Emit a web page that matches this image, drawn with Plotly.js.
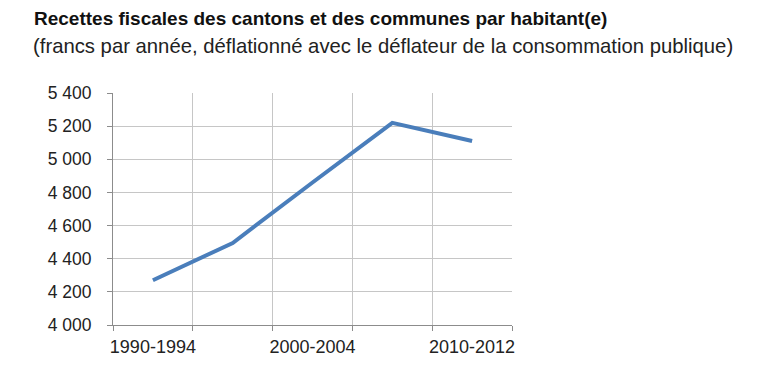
<!DOCTYPE html>
<html>
<head>
<meta charset="utf-8">
<script src="https://cdn.plot.ly/plotly-3.0.1.min.js"></script>
<style>
  html, body { margin: 0; padding: 0; background: #fff; }
  #chart { width: 761px; height: 370px; }
</style>
</head>
<body>
<div id="chart"></div>
<script>
// Data
const categories = ['1990-1994', '1995-1999', '2000-2004', '2005-2009', '2010-2012'];
const revenues = [4270, 4495, 4860, 5220, 5110];
const tickLabels = ['1990-1994', '', '2000-2004', '', '2010-2012'];
const yTicks = [4000, 4200, 4400, 4600, 4800, 5000, 5200, 5400];
const titleText = '<b>Recettes fiscales des cantons et des communes par habitant(e)</b>';
const subtitleText = '(francs par année, déflationné avec le déflateur de la consommation publique)';

const FONT = 'Liberation Sans, Arial, Helvetica, sans-serif';
const W = 761, H = 370;
const plotL = 113, plotR = 512, plotT = 93, plotB = 325;
const pw = plotR - plotL, ph = plotB - plotT;

const trace = {
  type: 'scatter',
  mode: 'lines',
  x: categories,
  y: revenues,
  line: { color: '#4a7ebb', width: 4 },
  hoverinfo: 'x+y'
};

const layout = {
  width: W, height: H,
  margin: { l: plotL, r: W - plotR, t: plotT, b: H - plotB, pad: 0 },
  paper_bgcolor: '#fff',
  plot_bgcolor: '#fff',
  showlegend: false,
  separators: ', ',
  font: { family: FONT, color: '#222', size: 18 },
  xaxis: {
    type: 'category',
    categoryorder: 'array',
    categoryarray: categories,
    tickmode: 'array',
    tickvals: categories,
    ticktext: tickLabels,
    tickson: 'boundaries',
    tickangle: 0,
    range: [-0.5, 4.5],
    showgrid: true,
    gridcolor: '#c6c6c6',
    gridwidth: 1,
    showline: true,
    linecolor: '#8c8c8c',
    linewidth: 1,
    ticks: 'outside',
    ticklen: 5,
    tickcolor: '#8c8c8c',
    tickfont: { family: FONT, size: 18, color: '#222' },
    ticklabelstandoff: 5,
    zeroline: false,
    fixedrange: true
  },
  yaxis: {
    range: [4000, 5400],
    tickmode: 'array',
    tickvals: yTicks,
    tickformat: ',d',
    separatethousands: true,
    showgrid: true,
    gridcolor: '#c6c6c6',
    gridwidth: 1,
    showline: true,
    linecolor: '#8c8c8c',
    linewidth: 1,
    ticks: 'outside',
    ticklen: 5,
    tickcolor: '#8c8c8c',
    tickfont: { family: FONT, size: 17.5, color: '#222' },
    ticklabelstandoff: 12,
    zeroline: false,
    fixedrange: true
  },
  annotations: [
    {
      text: titleText,
      xref: 'paper', yref: 'paper',
      x: (32 - plotL) / pw, y: (plotB - 18) / ph,
      xanchor: 'left', yanchor: 'middle',
      showarrow: false,
      font: { family: FONT, size: 19, color: '#111' }
    },
    {
      text: subtitleText,
      xref: 'paper', yref: 'paper',
      x: (31 - plotL) / pw, y: (plotB - 46) / ph,
      xanchor: 'left', yanchor: 'middle',
      showarrow: false,
      font: { family: FONT, size: 20.3, color: '#222' }
    }
  ]
};

Plotly.newPlot('chart', [trace], layout, { displayModeBar: false, staticPlot: true });
</script>
</body>
</html>
